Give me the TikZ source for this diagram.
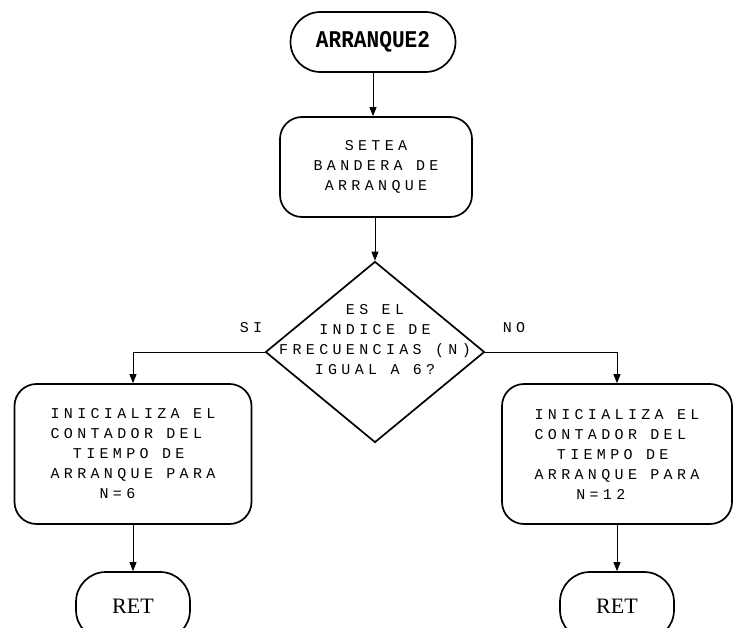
\documentclass[tikz,border=0pt]{standalone}
\usepackage{fontspec}
\usetikzlibrary{arrows.meta,shapes.geometric}
\newfontfamily\dotfont[LetterSpace=29]{Liberation Mono}
\newfontfamily\titlefont[FakeStretch=0.88]{Liberation Mono}
\newfontfamily\retfont{Liberation Serif}
\newcommand{\padcols}[1]{\hphantom{#1}}
\begin{document}
\begin{tikzpicture}[x=1pt,y=-1pt,
  outline/.style={draw=black, line width=1.7pt},
  dottext/.style={font=\dotfont\fontsize{15}{20}\selectfont},
  terminal/.style={outline, rectangle, rounded corners=30pt,
    minimum width=165pt, minimum height=60pt, inner sep=0pt,
    font=\titlefont\bfseries\fontsize{24}{24}\selectfont},
  process/.style={outline, rectangle, rounded corners=22pt,
    inner sep=0pt, dottext},
  decision/.style={outline, diamond, inner sep=0pt,
    minimum width=219pt, minimum height=181pt},
  retnode/.style={outline, rectangle, rounded corners=30pt,
    minimum width=114pt, minimum height=68pt, inner sep=0pt,
    font=\retfont\fontsize{22}{22}\selectfont},
  flow/.style={draw=black, line width=0.9pt,
    -{Triangle[length=9pt,width=7pt]}},
  branch/.style={dottext}
]
\useasboundingbox (0,0) rectangle (734,628);

% start terminal
\node[terminal] (start) at (373,42) {ARRANQUE2};

% set the start flag
\node[process, minimum width=192pt, minimum height=100pt, align=center]
  (setea) at (376,167) {SETEA\\BANDERA DE\\ARRANQUE};

% frequency index test
\node[decision] (q) at (375,352) {};
\node[dottext, align=center] (qtext) at (375,340)
  {ES EL\\INDICE DE\\FRECUENCIAS (N)\\IGUAL A 6?};

% both branches
\node[process, minimum width=237pt, minimum height=140pt, align=left]
  (lbox) at (133,454)
  {INICIALIZA EL\\CONTADOR DEL\\\padcols{NN}TIEMPO DE\\ARRANQUE PARA\\\padcols{NNNN}N=6};
\node[process, minimum width=230pt, minimum height=140pt, align=left]
  (rbox) at (617,454)
  {INICIALIZA EL\\CONTADOR DEL\\\padcols{NN}TIEMPO DE\\ARRANQUE PARA\\\padcols{NNN}\hspace{6pt}N=12};

% returns
\node[retnode] (ret1) at (133,606) {RET};
\node[retnode] (ret2) at (617,606) {RET};

% branch labels
\node[branch] (si) at (251,328) {SI};
\node[branch] (no) at (514,328) {NO};

% connectors
\draw[flow] (start.south) -- (start.south |- setea.north);
\draw[flow] (q.north |- setea.south) -- (q.north);
\draw[flow] (q.west) -| (lbox.north);
\draw[flow] (q.east) -| (rbox.north);
\draw[flow] (lbox.south) -- (ret1.north);
\draw[flow] (rbox.south) -- (ret2.north);
\end{tikzpicture}
\end{document}
